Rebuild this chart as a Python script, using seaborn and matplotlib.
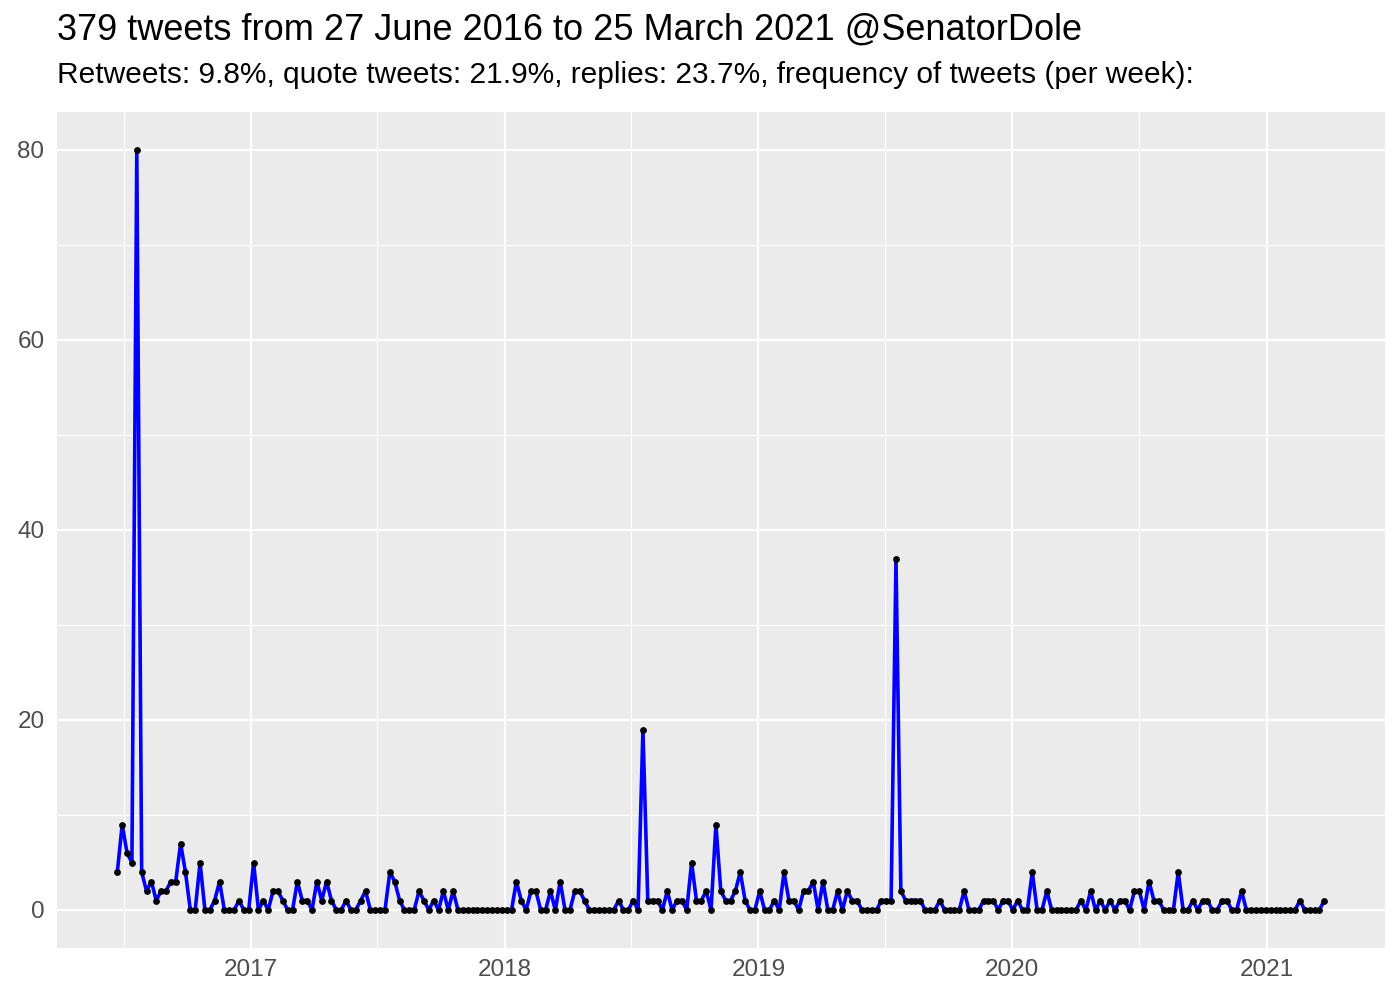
import numpy as np
import pandas as pd
import matplotlib
matplotlib.use('Agg')
import matplotlib.pyplot as plt
import matplotlib.dates as mdates
from matplotlib.ticker import MultipleLocator
import seaborn as sns

# weekly tweet counts
first_week = '2016-06-23'
tweets_per_week = [
    4, 9, 6, 5, 80, 4, 2, 3, 1, 2, 2, 3, 3, 7, 4,
    0, 0, 5, 0, 0, 1, 3, 0, 0, 0, 1, 0, 0, 5, 0,
    1, 0, 2, 2, 1, 0, 0, 3, 1, 1, 0, 3, 1, 3, 1,
    0, 0, 1, 0, 0, 1, 2, 0, 0, 0, 0, 4, 3, 1, 0,
    0, 0, 2, 1, 0, 1, 0, 2, 0, 2,
    0, 0, 0, 0, 0, 0, 0, 0, 0, 0, 0, 0,
    3, 1, 0, 2, 2, 0, 0, 2, 0, 3, 0, 0, 2, 2, 1,
    0, 0, 0, 0, 0, 0, 1, 0, 0, 1, 0,
    19,
    1, 1, 1, 0, 2, 0, 1,
    1, 0, 5, 1, 1, 2, 0, 9, 2, 1, 1, 2, 4, 1, 0, 0, 2, 0, 0, 1,
    0, 4, 1, 1, 0, 2, 2, 3, 0, 3, 0, 0, 2, 0, 2, 1, 1, 0, 0,
    0, 0, 1, 1, 1, 37, 2,
    1, 1, 1, 1, 0, 0, 0, 1, 0, 0, 0, 0, 2, 0, 0, 0, 1, 1, 1, 0,
    1, 1, 0, 1, 0, 0, 4, 0, 0, 2, 0, 0,
    0, 0, 0, 0, 1, 0, 2, 0, 1, 0, 1, 0, 1, 1, 0, 2, 2, 0, 3, 1,
    1, 0, 0, 0, 4, 0, 0, 1, 0, 1, 1, 0, 0, 1, 1, 0, 0, 2, 0,
    0, 0, 0, 0, 0, 0, 0, 0, 0, 0, 1, 0, 0, 0, 0, 1,
]

title = '379 tweets from 27 June 2016 to 25 March 2021 @SenatorDole'
subtitle = ('Retweets: 9.8%, quote tweets: 21.9%, replies: 23.7%, '
            'frequency of tweets (per week):')

df = pd.DataFrame({
    'week': pd.date_range(first_week, periods=len(tweets_per_week), freq='7D'),
    'n': tweets_per_week,
})

sns.set_style("darkgrid", {'axes.facecolor': '#EBEBEB', 'grid.color': 'white'})
plt.rcParams['font.family'] = ['Liberation Sans', 'DejaVu Sans']

fig, ax = plt.subplots(figsize=(14, 10), dpi=100)
fig.subplots_adjust(left=0.0407, right=0.989, bottom=0.052, top=0.888)

sns.lineplot(data=df, x='week', y='n', color='blue', linewidth=2.6, ax=ax)
sns.scatterplot(data=df, x='week', y='n', color='black', s=24, linewidth=0,
                ax=ax, zorder=3)

# ggplot-like 5% expansion
span = df['week'].max() - df['week'].min()
ax.set_xlim(df['week'].min() - span * 0.05, df['week'].max() + span * 0.05)
ax.set_ylim(-4, 84)

ax.xaxis.set_major_locator(mdates.YearLocator())
ax.xaxis.set_major_formatter(mdates.DateFormatter('%Y'))
ax.xaxis.set_minor_locator(mdates.MonthLocator(bymonth=7, bymonthday=2))
ax.yaxis.set_major_locator(MultipleLocator(20))
ax.yaxis.set_minor_locator(MultipleLocator(10))

ax.grid(which='major', color='white', linewidth=1.6)
ax.grid(which='minor', color='white', linewidth=0.8)
ax.set_axisbelow(True)
ax.tick_params(which='major', length=5, width=1.4, color='#333333',
               labelcolor='#4D4D4D', labelsize=17.5)
ax.tick_params(axis='x', pad=3)
ax.tick_params(axis='y', pad=4)
ax.tick_params(which='minor', length=0)
for s in ax.spines.values():
    s.set_visible(False)
ax.set_xlabel('')
ax.set_ylabel('')

fig.text(0.041, 0.960, title, fontsize=26, color='black',
         ha='left', va='baseline')
fig.text(0.041, 0.917, subtitle, fontsize=21.5, color='black',
         ha='left', va='baseline')

plt.savefig('out.png', dpi=100)
